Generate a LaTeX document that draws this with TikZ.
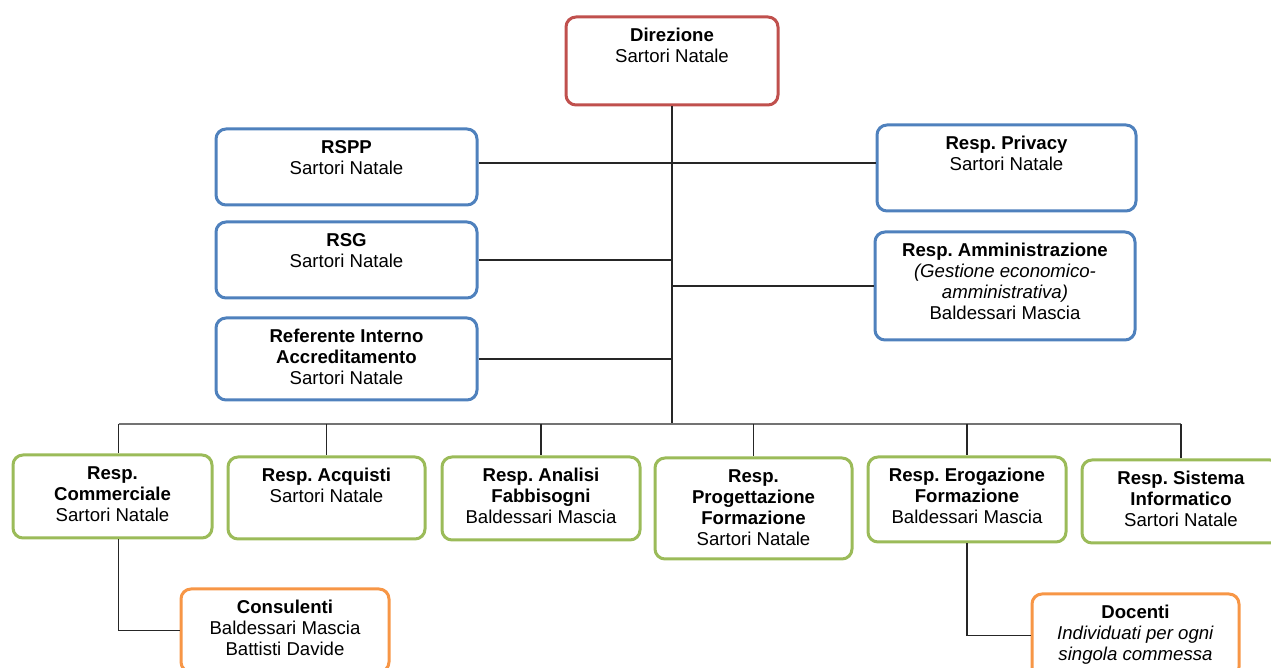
\documentclass[tikz,border=0pt]{standalone}
\usepackage{fontspec}
\setmainfont{Liberation Sans}
\frenchspacing
\definecolor{dirred}{HTML}{C0504D}
\definecolor{staffblue}{HTML}{4F81BD}
\definecolor{respgreen}{HTML}{9BBB59}
\definecolor{extorange}{HTML}{F79646}
\newdimen\pix \pix=0.5pt
\begin{document}
\begin{tikzpicture}[x=0.5pt, y=-0.5pt,
		orgbox/.style 2 args={draw, line width=1.5pt, rounded corners=5pt, fill=white, inner sep=0pt, anchor=north west,
			execute at begin node={\fontsize{9.3}{10.5}\selectfont\begin{minipage}[c][#2\pix][t]{#1\pix}\centering\vspace*{5pt}\strut},
			execute at end node={\end{minipage}}},
		dirbox/.style 2 args={orgbox={#1}{#2}, draw=dirred},
		staffbox/.style 2 args={orgbox={#1}{#2}, draw=staffblue},
		respbox/.style 2 args={orgbox={#1}{#2}, draw=respgreen},
		extbox/.style 2 args={orgbox={#1}{#2}, draw=extorange},
		link/.style={draw=black!85, line width=0.6pt}]
	\useasboundingbox (0,0) rectangle (1271,668);
	% top
	\node[dirbox={212}{88}] (dir) at (564.5,15.5) {\textbf{Direzione}\\Sartori Natale};
	% staff
	\node[staffbox={261}{76}] (rspp) at (214.5,127.5) {\textbf{RSPP}\\Sartori Natale};
	\node[staffbox={261}{76}] (rsg) at (214.5,220.5) {\textbf{RSG}\\Sartori Natale};
	\node[staffbox={261}{82}] (ref) at (214.5,316.5) {\textbf{Referente Interno}\\\textbf{Accreditamento}\\Sartori Natale};
	\node[staffbox={259}{86}] (priv) at (875.5,123.5) {\textbf{Resp. Privacy}\\Sartori Natale};
	\node[staffbox={260}{108}] (amm) at (873.5,230.5) {\textbf{Resp. Amministrazione}\\\textit{(Gestione economico-}\\\textit{amministrativa)}\\Baldessari Mascia};
	% responsabili
	\node[respbox={199}{83}] (comm) at (11.5,453.5) {\textbf{Resp.}\\\textbf{Commerciale}\\Sartori Natale};
	\node[respbox={197}{82}] (acq) at (226.5,455.5) {\textbf{Resp. Acquisti}\\Sartori Natale};
	\node[respbox={198}{83}] (anal) at (440.5,455.5) {\textbf{Resp. Analisi}\\\textbf{Fabbisogni}\\Baldessari Mascia};
	\node[respbox={197}{101}] (prog) at (653.5,456.5) {\textbf{Resp.}\\\textbf{Progettazione}\\\textbf{Formazione}\\Sartori Natale};
	\node[respbox={198}{85}] (erog) at (866.5,455.5) {\textbf{Resp. Erogazione}\\\textbf{Formazione}\\Baldessari Mascia};
	\node[respbox={198}{83}] (info) at (1080.5,458.5) {\textbf{Resp. Sistema}\\\textbf{Informatico}\\Sartori Natale};
	% esterni
	\node[extbox={208}{83}] (cons) at (179.5,587.5) {\textbf{Consulenti}\\Baldessari Mascia\\Battisti Davide};
	\node[extbox={207}{83}] (doc) at (1030.5,592.5) {\textbf{Docenti}\\\textit{Individuati per ogni}\\\textit{singola commessa}};
	% connectors
	\coordinate (bus) at (dir.south |- 0,424);
	\draw[link] (dir.south) -- (bus);
	\draw[link] (rspp.east |- 0,163) -- (priv.west |- 0,163);
	\draw[link] (rsg.east) -- (rsg.east -| bus);
	\draw[link] (ref.east) -- (ref.east -| bus);
	\draw[link] (amm.west) -- (amm.west -| bus);
	\draw[link, draw=black!55] ([xshift=3]comm.north |- bus) -- (info.north |- bus);
	\draw[link] ([xshift=3]comm.north |- bus) -- ([xshift=3]comm.north);
	\draw[link] (acq.north |- bus) -- (acq.north);
	\draw[link] (anal.north |- bus) -- (anal.north);
	\draw[link] (prog.north |- bus) -- (prog.north);
	\draw[link] (erog.north |- bus) -- (erog.north);
	\draw[link] (info.north |- bus) -- (info.north);
	\draw[link] ([xshift=3]comm.south) |- (cons.west);
	\draw[link] (erog.south) |- (doc.west);
\end{tikzpicture}
\end{document}
